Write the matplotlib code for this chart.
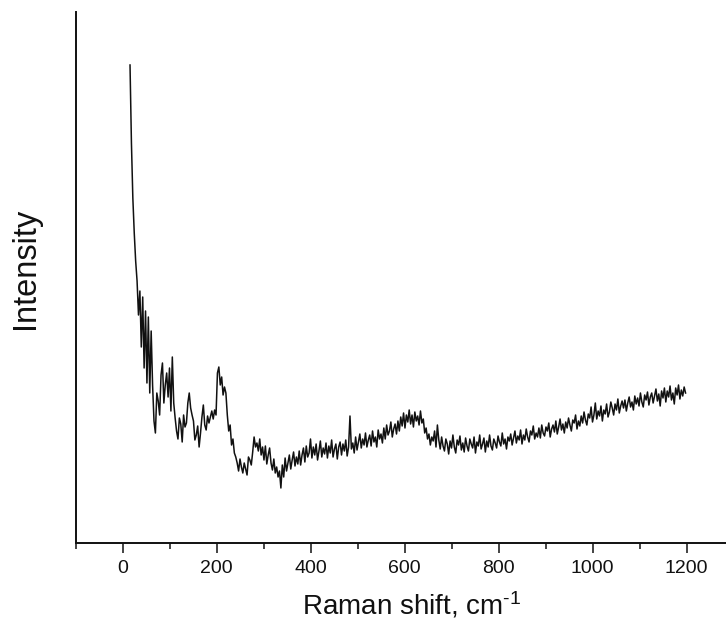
import numpy as np
import matplotlib
matplotlib.use("Agg")
import matplotlib.pyplot as plt
from matplotlib.ticker import MultipleLocator

plt.rcParams['font.family'] = ['Liberation Sans', 'DejaVu Sans']
plt.rcParams['mathtext.fontset'] = 'custom'
plt.rcParams['mathtext.rm'] = 'Liberation Sans'
plt.rcParams['mathtext.default'] = 'regular'

# Raman shift grid (cm^-1): start and step of the recorded spectrum
shift_start = 16
shift_step = 3

# Intensity (arbitrary units), one value per grid point
intensity = [
    478, 400, 345, 310, 282, 262, 228, 252, 196, 246,
    175, 232, 160, 226, 150, 212, 158, 122, 110, 150,
    142, 128, 168, 180, 140, 158, 170, 146, 175, 132,
    186, 140, 125, 112, 104, 125, 119, 101, 128, 116,
    120, 140, 150, 135, 128, 122, 103, 108, 117, 96,
    110, 126, 138, 118, 113, 127, 120, 126, 132, 124,
    133, 128, 170, 176, 158, 166, 148, 156, 150, 128,
    112, 118, 98, 104, 90, 86, 80, 72, 84, 76,
    70, 80, 74, 68, 86, 83, 78, 91, 106, 96,
    100, 92, 104, 88, 96, 83, 97, 79, 88, 95,
    80, 73, 84, 70, 76, 66, 72, 55, 78, 66,
    85, 72, 80, 88, 74, 83, 91, 77, 86, 79,
    92, 78, 88, 95, 81, 97, 86, 90, 104, 85,
    96, 88, 99, 83, 92, 102, 86, 95, 89, 100,
    85, 97, 90, 103, 86, 94, 99, 84, 96, 101,
    88, 99, 92, 103, 87, 96, 127, 94, 100, 90,
    106, 93, 101, 109, 95, 104, 98, 110, 96, 103,
    108, 97, 112, 101, 106, 96, 113, 104, 109, 100,
    115, 104, 118, 108, 112, 121, 106, 114, 119, 109,
    122, 112, 126, 117, 130, 115, 128, 121, 133, 119,
    128, 116, 131, 122, 127, 118, 132, 120, 124, 110,
    115, 104, 109, 98, 106, 102, 112, 96, 118, 103,
    94, 106, 97, 92, 104, 99, 89, 102, 95, 108,
    96, 90, 103, 98, 107, 93, 100, 91, 105, 97,
    92, 104, 99, 95, 106, 90, 101, 97, 108, 94,
    99, 105, 91, 102, 96, 108, 97, 93, 104, 100,
    95, 107, 101, 97, 110, 99, 104, 94, 106, 102,
    109, 98, 105, 112, 100, 107, 103, 113, 99, 108,
    103, 114, 106, 101, 112, 108, 117, 104, 110, 106,
    115, 105, 118, 110, 107, 116, 112, 120, 106, 114,
    118, 111, 122, 109, 116, 124, 113, 119, 110, 121,
    115, 125, 118, 112, 123, 120, 128, 114, 122, 117,
    127, 120, 131, 123, 118, 129, 125, 136, 121, 128,
    140, 124, 132, 127, 137, 122, 133, 129, 139, 126,
    131, 141, 135, 128, 139, 133, 144, 130, 137, 142,
    135, 143, 132, 140, 146, 136, 141, 133, 147, 139,
    145, 137, 150, 141, 136, 148, 143, 151, 138, 146,
    150, 140, 147, 154, 142, 149, 137, 152, 145, 155,
    141, 152, 146, 157, 143, 150, 139, 155, 148, 158,
    144, 153, 147, 156, 150,
]

x_ticks = [0, 200, 400, 600, 800, 1000, 1200]
x_label = r'Raman shift, cm$^{\text{-1}}$'
y_label = 'Intensity'

shift = shift_start + shift_step * np.arange(len(intensity))

W, H = 726, 621
fig = plt.figure(figsize=(W / 100, H / 100), dpi=100)
left, right_px, top, bottom = 75.5, 733.5, 12, 543
ax = fig.add_axes([left / W, (H - bottom) / H, (right_px - left) / W, (bottom - top) / H])

ax.plot(shift, intensity, color='#111111', lw=1.1)

ax.set_xlim(-100, 1300)
ax.set_ylim(0, 531)

for s in ['top', 'right']:
    ax.spines[s].set_visible(False)
for s in ['left', 'bottom']:
    ax.spines[s].set_linewidth(1.4)
    ax.spines[s].set_color('#111111')

ax.set_xticks(x_ticks)
ax.xaxis.set_minor_locator(MultipleLocator(100))
ax.tick_params(axis='x', which='major', direction='out', length=7.5, width=1.1,
               labelsize=14, pad=5, colors='#111111')
ax.tick_params(axis='x', which='minor', direction='out', length=4, width=1.1, colors='#111111')
ax.set_yticks([])

ax.set_xlabel(x_label, fontsize=20, color='#111111')
ax.xaxis.set_label_coords((412 - left) / (right_px - left), (bottom - 590) / (bottom - top))
ax.set_ylabel(y_label, fontsize=23.5, color='#111111')
ax.yaxis.set_label_coords((41 - left) / (right_px - left), (bottom - 268) / (bottom - top))

fig.savefig('out.png', dpi=100)
